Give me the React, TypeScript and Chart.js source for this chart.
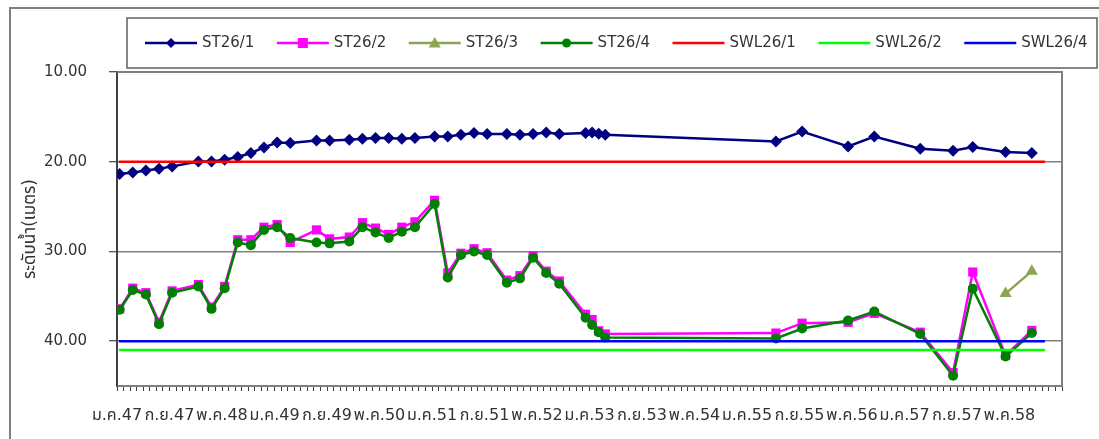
import React, { useEffect, useRef } from "react";
import { Chart, registerables } from "chart.js";

Chart.register(...registerables);

// ---------- data (x = months counted from ม.ค.47) ----------
const sampleMonths = [
  0.4, 2.4, 4.4, 6.4, 8.4, 12.4, 14.4, 16.4, 18.4, 20.4, 22.4, 24.4, 26.4,
  30.4, 32.4, 35.4, 37.4, 39.4, 41.4, 43.4, 45.4, 48.4, 50.4, 52.4, 54.4,
  56.4, 59.4, 61.4, 63.4, 65.4, 67.4, 71.4, 72.4, 73.4, 74.4, 100.4, 104.4,
  111.4, 115.4, 122.4, 127.4, 130.4, 135.4, 139.4,
];

const st26_1 = [
  21.37, 21.19, 20.97, 20.78, 20.52, 19.97, 19.97, 19.78, 19.48, 19.03, 18.41,
  17.86, 17.92, 17.63, 17.63, 17.56, 17.44, 17.37, 17.37, 17.44, 17.37, 17.19,
  17.19, 17.0, 16.81, 16.92, 16.92, 17.0, 16.92, 16.74, 16.92, 16.81, 16.74,
  16.89, 17.0, 17.74, 16.63, 18.3, 17.19, 18.56, 18.78, 18.37, 18.92, 19.03,
];

const st26_2 = [
  36.4, 34.1, 34.6, 37.9, 34.4, 33.7, 36.2, 33.9, 28.7, 28.7, 27.3, 27.0,
  29.0, 27.6, 28.6, 28.4, 26.8, 27.4, 28.1, 27.3, 26.7, 24.3, 32.4, 30.2,
  29.7, 30.15, 33.2, 32.7, 30.5, 32.2, 33.3, 37.0, 37.6, 38.85, 39.2, 39.1,
  38.0, 37.9, 36.9, 39.0, 43.5, 32.3, 41.6, 38.8,
];

const st26_3: (number | null)[] = [
  null, null, null, null, null, null, null, null, null, null, null, null,
  null, null, null, null, null, null, null, null, null, null, null, null,
  null, null, null, null, null, null, null, null, null, null, null, null,
  null, null, null, null, null, null, 34.7, 32.2,
];

const st26_4 = [
  36.5, 34.3, 34.8, 38.1, 34.6, 33.9, 36.4, 34.1, 29.0, 29.3, 27.6, 27.3,
  28.5, 29.0, 29.1, 28.9, 27.3, 27.9, 28.5, 27.8, 27.3, 24.7, 32.9, 30.4,
  30.0, 30.4, 33.5, 33.0, 30.7, 32.4, 33.6, 37.4, 38.2, 39.0, 39.6, 39.7,
  38.6, 37.7, 36.7, 39.2, 43.85, 34.15, 41.7, 39.1,
];

const swlMonths = [0.3, 141.4];
const swl26_1 = [20, 20];
const swl26_2 = [41, 41];
const swl26_4 = [40, 40];

const xTickMonths = [0, 8, 16, 24, 32, 40, 48, 56, 64, 72, 80, 88, 96, 104, 112, 120, 128, 136];
const xTickLabels = [
  "ม.ค.47", "ก.ย.47", "พ.ค.48", "ม.ค.49", "ก.ย.49", "พ.ค.50", "ม.ค.51", "ก.ย.51",
  "พ.ค.52", "ม.ค.53", "ก.ย.53", "พ.ค.54", "ม.ค.55", "ก.ย.55", "พ.ค.56", "ม.ค.57",
  "ก.ย.57", "พ.ค.58",
];
const xAxisMonths = 144;
const yTicks = [10, 20, 30, 40];
const yMin = 10;
const yMax = 45;
const yTitle = "ระดับน้ำ(เมตร)";

// ---------- styling ----------
const W = 1099;
const H = 439;
const FONT = "'DejaVu Sans', 'Noto Sans Thai', 'Noto Sans', sans-serif";
const TEXT = "#333333";

type Marker = "diamond" | "square" | "triangle" | "circle" | "none";

interface SeriesDef {
  label: string;
  color: string;
  marker: Marker;
  xs: number[];
  ys: (number | null)[];
  order: number;
}

const series: SeriesDef[] = [
  { label: "ST26/1", color: "#000080", marker: "diamond", xs: sampleMonths, ys: st26_1, order: 7 },
  { label: "ST26/2", color: "#FF00FF", marker: "square", xs: sampleMonths, ys: st26_2, order: 6 },
  { label: "ST26/3", color: "#8BA552", marker: "triangle", xs: sampleMonths, ys: st26_3, order: 5 },
  { label: "ST26/4", color: "#008000", marker: "circle", xs: sampleMonths, ys: st26_4, order: 4 },
  { label: "SWL26/1", color: "#FF0000", marker: "none", xs: swlMonths, ys: swl26_1, order: 3 },
  { label: "SWL26/2", color: "#00FF00", marker: "none", xs: swlMonths, ys: swl26_2, order: 2 },
  { label: "SWL26/4", color: "#0000FF", marker: "none", xs: swlMonths, ys: swl26_4, order: 1 },
];

const pointStyleOf: Record<Marker, any> = {
  diamond: "rectRot",
  square: "rect",
  triangle: "triangle",
  circle: "circle",
  none: false,
};
const radiusOf: Record<Marker, number> = {
  diamond: 6,
  square: 6.5,
  triangle: 7,
  circle: 5,
  none: 0,
};

function drawMarker(ctx: CanvasRenderingContext2D, m: Marker, x: number, y: number, color: string) {
  ctx.fillStyle = color;
  ctx.beginPath();
  if (m === "diamond") {
    ctx.moveTo(x, y - 5);
    ctx.lineTo(x + 5, y);
    ctx.lineTo(x, y + 5);
    ctx.lineTo(x - 5, y);
    ctx.closePath();
  } else if (m === "square") {
    ctx.rect(x - 5, y - 5, 10, 10);
  } else if (m === "triangle") {
    ctx.moveTo(x, y - 6);
    ctx.lineTo(x + 6, y + 4.5);
    ctx.lineTo(x - 6, y + 4.5);
    ctx.closePath();
  } else if (m === "circle") {
    ctx.arc(x, y, 4.5, 0, Math.PI * 2);
  } else {
    return;
  }
  ctx.fill();
}

const decorPlugin = {
  id: "decor",
  beforeDatasetsDraw(chart: any) {
    const { ctx, chartArea } = chart;
    ctx.save();
    ctx.strokeStyle = "#808080";
    ctx.lineWidth = 2;
    ctx.beginPath();
    ctx.moveTo(chartArea.left, chartArea.top);
    ctx.lineTo(chartArea.right, chartArea.top);
    ctx.lineTo(chartArea.right, chartArea.bottom);
    ctx.stroke();
    ctx.restore();
  },
  afterDraw(chart: any) {
    const { ctx } = chart;
    ctx.save();
    // outer frame
    ctx.strokeStyle = "#808080";
    ctx.lineWidth = 2;
    ctx.beginPath();
    ctx.moveTo(10, H);
    ctx.lineTo(10, 8);
    ctx.lineTo(W, 8);
    ctx.stroke();
    // legend box
    ctx.strokeStyle = "#606060";
    ctx.lineWidth = 1.5;
    ctx.strokeRect(127, 18, 970, 50);
    // legend items
    ctx.font = `15px ${FONT}`;
    ctx.textAlign = "left";
    ctx.textBaseline = "middle";
    let x = 145;
    const cy = 43;
    for (const s of series) {
      ctx.strokeStyle = s.color;
      ctx.lineWidth = 2.5;
      ctx.beginPath();
      ctx.moveTo(x, cy);
      ctx.lineTo(x + 52, cy);
      ctx.stroke();
      drawMarker(ctx, s.marker, x + 26, cy, s.color);
      ctx.fillStyle = TEXT;
      ctx.fillText(s.label, x + 57, cy);
      x += 57 + ctx.measureText(s.label).width + 22.5;
    }
    ctx.restore();
  },
};

export default function App() {
  const canvasRef = useRef<HTMLCanvasElement | null>(null);

  useEffect(() => {
    const canvas = canvasRef.current;
    if (!canvas) return;

    const datasets = series.map((s) => ({
      label: s.label,
      data: s.xs.map((x, i) => ({ x, y: s.ys[i] })),
      borderColor: s.color,
      backgroundColor: s.color,
      borderWidth: 2.5,
      pointStyle: pointStyleOf[s.marker],
      pointRadius: radiusOf[s.marker],
      pointBorderWidth: 0,
      pointBackgroundColor: s.color,
      spanGaps: false,
      order: s.order,
      tension: 0,
    }));

    const chart = new Chart(canvas, {
      type: "line",
      data: { datasets },
      plugins: [decorPlugin],
      options: {
        animation: false,
        responsive: false,
        devicePixelRatio: 1,
        layout: { padding: { top: 72, right: 37, left: 0, bottom: 0 } },
        plugins: {
          legend: { display: false },
          tooltip: { enabled: false },
        },
        scales: {
          x: {
            type: "linear",
            min: 0,
            max: xAxisMonths,
            afterBuildTicks: (scale: any) => {
              const t = [];
              for (let i = 0; i <= xAxisMonths; i++) t.push({ value: i });
              scale.ticks = t;
            },
            afterFit: (scale: any) => {
              scale.height = 53;
            },
            ticks: {
              autoSkip: false,
              maxRotation: 0,
              minRotation: 0,
              padding: 15,
              color: TEXT,
              font: { family: FONT, size: 16 },
              callback: (v: any) => {
                const idx = xTickMonths.indexOf(Number(v));
                return idx >= 0 ? xTickLabels[idx] : "";
              },
            },
            grid: {
              drawOnChartArea: false,
              drawTicks: true,
              tickLength: 5,
              tickColor: "#404040",
              lineWidth: 1,
            },
            border: { display: true, color: "#808080", width: 2 },
          },
          y: {
            type: "linear",
            reverse: true,
            min: yMin,
            max: yMax,
            afterBuildTicks: (scale: any) => {
              scale.ticks = yTicks.map((v) => ({ value: v }));
            },
            afterFit: (scale: any) => {
              scale.width = 117;
            },
            ticks: {
              padding: 22,
              color: TEXT,
              font: { family: FONT, size: 15 },
              callback: (v: any) => Number(v).toFixed(2),
            },
            grid: {
              color: "#808080",
              lineWidth: 1.5,
              tickLength: 8,
              tickColor: "#202020",
              tickWidth: 1,
            },
            border: { display: true, color: "#404040", width: 2 },
            title: {
              display: true,
              text: yTitle,
              color: TEXT,
              font: { family: FONT, size: 17 },
              padding: { top: 20, bottom: 0 },
            },
          },
        },
      },
    });

    return () => {
      chart.destroy();
    };
  }, []);

  return (
    <div style={{ position: "absolute", left: 0, top: 0, width: W, height: H, background: "#fff" }}>
      <canvas ref={canvasRef} width={W} height={H} style={{ display: "block", width: W, height: H }} />
    </div>
  );
}
